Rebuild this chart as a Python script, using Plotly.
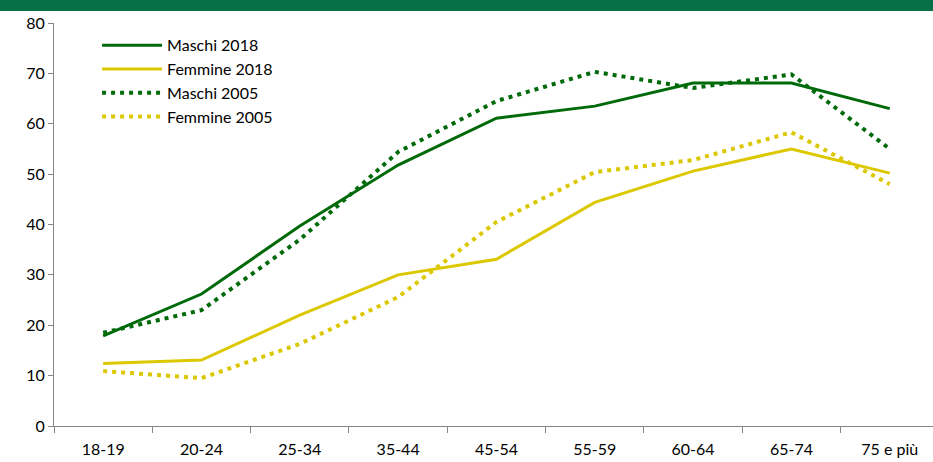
import plotly.graph_objects as go

categories = ["18-19", "20-24", "25-34", "35-44", "45-54", "55-59", "60-64", "65-74", "75 e più"]
maschi_2018 = [17.9, 26.2, 39.7, 51.8, 61.1, 63.5, 68.1, 68.1, 63.0]
femmine_2018 = [12.4, 13.1, 22.0, 30.0, 33.1, 44.4, 50.6, 55.0, 50.2]
maschi_2005 = [18.5, 23.0, 37.0, 54.4, 64.5, 70.3, 67.1, 69.8, 55.0]
femmine_2005 = [10.9, 9.5, 16.3, 25.6, 40.5, 50.4, 52.8, 58.3, 48.0]
y_ticks = [0, 10, 20, 30, 40, 50, 60, 70, 80]

GREEN = "#006A0A"
YELLOW = "#DCC800"

fig = go.Figure()
series = [
    ("Maschi 2018", maschi_2018, GREEN, "solid", 3),
    ("Femmine 2018", femmine_2018, YELLOW, "solid", 3),
    ("Maschi 2005", maschi_2005, GREEN, "4px,5px", 4),
    ("Femmine 2005", femmine_2005, YELLOW, "4px,5px", 4),
]
for name, vals, col, dash, w in series:
    fig.add_trace(go.Scatter(x=categories, y=vals, name=name, mode="lines",
                             line=dict(color=col, width=w, dash=dash)))

W, H = 933, 462
ml, mt, mb, mr = 54, 23, 36, 0
ph = H - mt - mb
pw = W - ml - mr

fig.add_shape(type="rect", xref="paper", yref="paper",
              x0=-ml / pw, x1=1.0, y0=1 + (mt - 11) / ph, y1=1 + mt / ph,
              fillcolor="#077047", line=dict(width=0), layer="above")

fig.update_layout(
    width=W, height=H,
    margin=dict(l=ml, r=mr, t=mt, b=mb, autoexpand=False),
    paper_bgcolor="white", plot_bgcolor="white",
    font=dict(family="Lato, Open Sans, sans-serif", size=16, color="#000000"),
    showlegend=True,
    legend=dict(x=0.049, y=0.987, xanchor="left", yanchor="top",
                bgcolor="rgba(0,0,0,0)", font=dict(size=16),
                tracegroupgap=0, itemwidth=60),
    xaxis=dict(type="category", range=[-0.5, 8.44], showgrid=False, automargin=False,
               showline=True, linecolor="#868686", linewidth=1,
               ticks="outside", tickson="boundaries", ticklen=6, tickcolor="#868686",
               ticklabelstandoff=9, tickfont=dict(size=16)),
    yaxis=dict(range=[0, 80], tickvals=y_ticks, showgrid=False, zeroline=False, automargin=False,
               showline=True, linecolor="#868686", linewidth=1,
               ticks="outside", ticklen=5, tickcolor="#868686",
               tickfont=dict(size=16)),
)

fig.write_html("out.html", config={"displayModeBar": False},
               post_script="document.body.style.margin='0';document.body.style.overflow='hidden';")
